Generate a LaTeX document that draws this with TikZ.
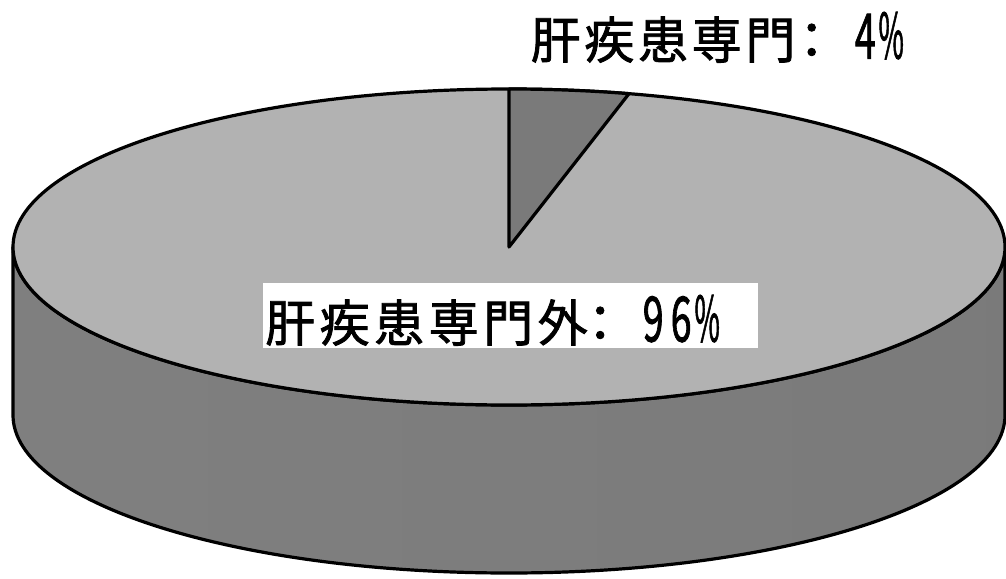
\documentclass[tikz,border=0pt]{standalone}
\usepackage{fontspec}
\usepackage{graphicx}
\newfontfamily\cjk[FakeBold=1.6]{Noto Sans CJK JP}
\newcommand\putc[2]{\makebox[0pt][l]{\hspace*{#1}\makebox[0pt][c]{#2}}}
\newcommand\tallc[1]{\scalebox{0.75}[1.25]{#1}}
\newcommand\tallpct{\scalebox{0.55}[1.25]{\%}}
\tikzset{
  edge/.style={draw=black, line width=3.2pt, line join=round},
  sidewall/.style={edge, left color=black!50, middle color=black!72, right color=black!52},
  topface/.style={edge, fill=black!30},
  slicefill/.style={edge, fill=black!52},
  lbl/.style={inner sep=0pt, font=\cjk\fontsize{50}{50}\selectfont},
  whitebox/.style={fill=white, inner sep=0pt, minimum width=495pt, minimum height=65pt}
}
\begin{document}
\begin{tikzpicture}[x=1pt, y=-1pt]
\useasboundingbox (0,0) rectangle (1006,578);
% side wall
\coordinate (cen) at (509,247);
\path[sidewall] (13,247) -- (13,415) arc[start angle=180, end angle=360, x radius=496pt, y radius=158pt]
  -- (1005,247) arc[start angle=0, end angle=-180, x radius=496pt, y radius=158pt] -- cycle;
% top face
\path[topface] (cen) ellipse [x radius=496pt, y radius=158pt];
% 4% slice
\path[slicefill] (cen) -- (509,89) arc[start angle=90, end angle=76, x radius=496pt, y radius=158pt] -- cycle;
% labels
\node (lbl4) [lbl, anchor=base west] at (520,58.5)
  {\putc{35.5pt}{肝}\putc{89.2pt}{疾}\putc{142.9pt}{患}\putc{196.6pt}{専}\putc{250.3pt}{門}\putc{291.5pt}{：}\putc{345pt}{\tallc{4}}\putc{371pt}{\tallpct}\hspace*{385pt}};
\node (box96) [whitebox, anchor=north west] at (263,283) {};
\node (lbl96) [lbl, anchor=base west] at (263,341.5)
  {\putc{27pt}{肝}\putc{81.5pt}{疾}\putc{136pt}{患}\putc{190.5pt}{専}\putc{245pt}{門}\putc{299.5pt}{外}\putc{337pt}{：}\putc{390pt}{\tallc{9}}\putc{418pt}{\tallc{6}}\putc{444pt}{\tallpct}\hspace*{460pt}};
\end{tikzpicture}
\end{document}
